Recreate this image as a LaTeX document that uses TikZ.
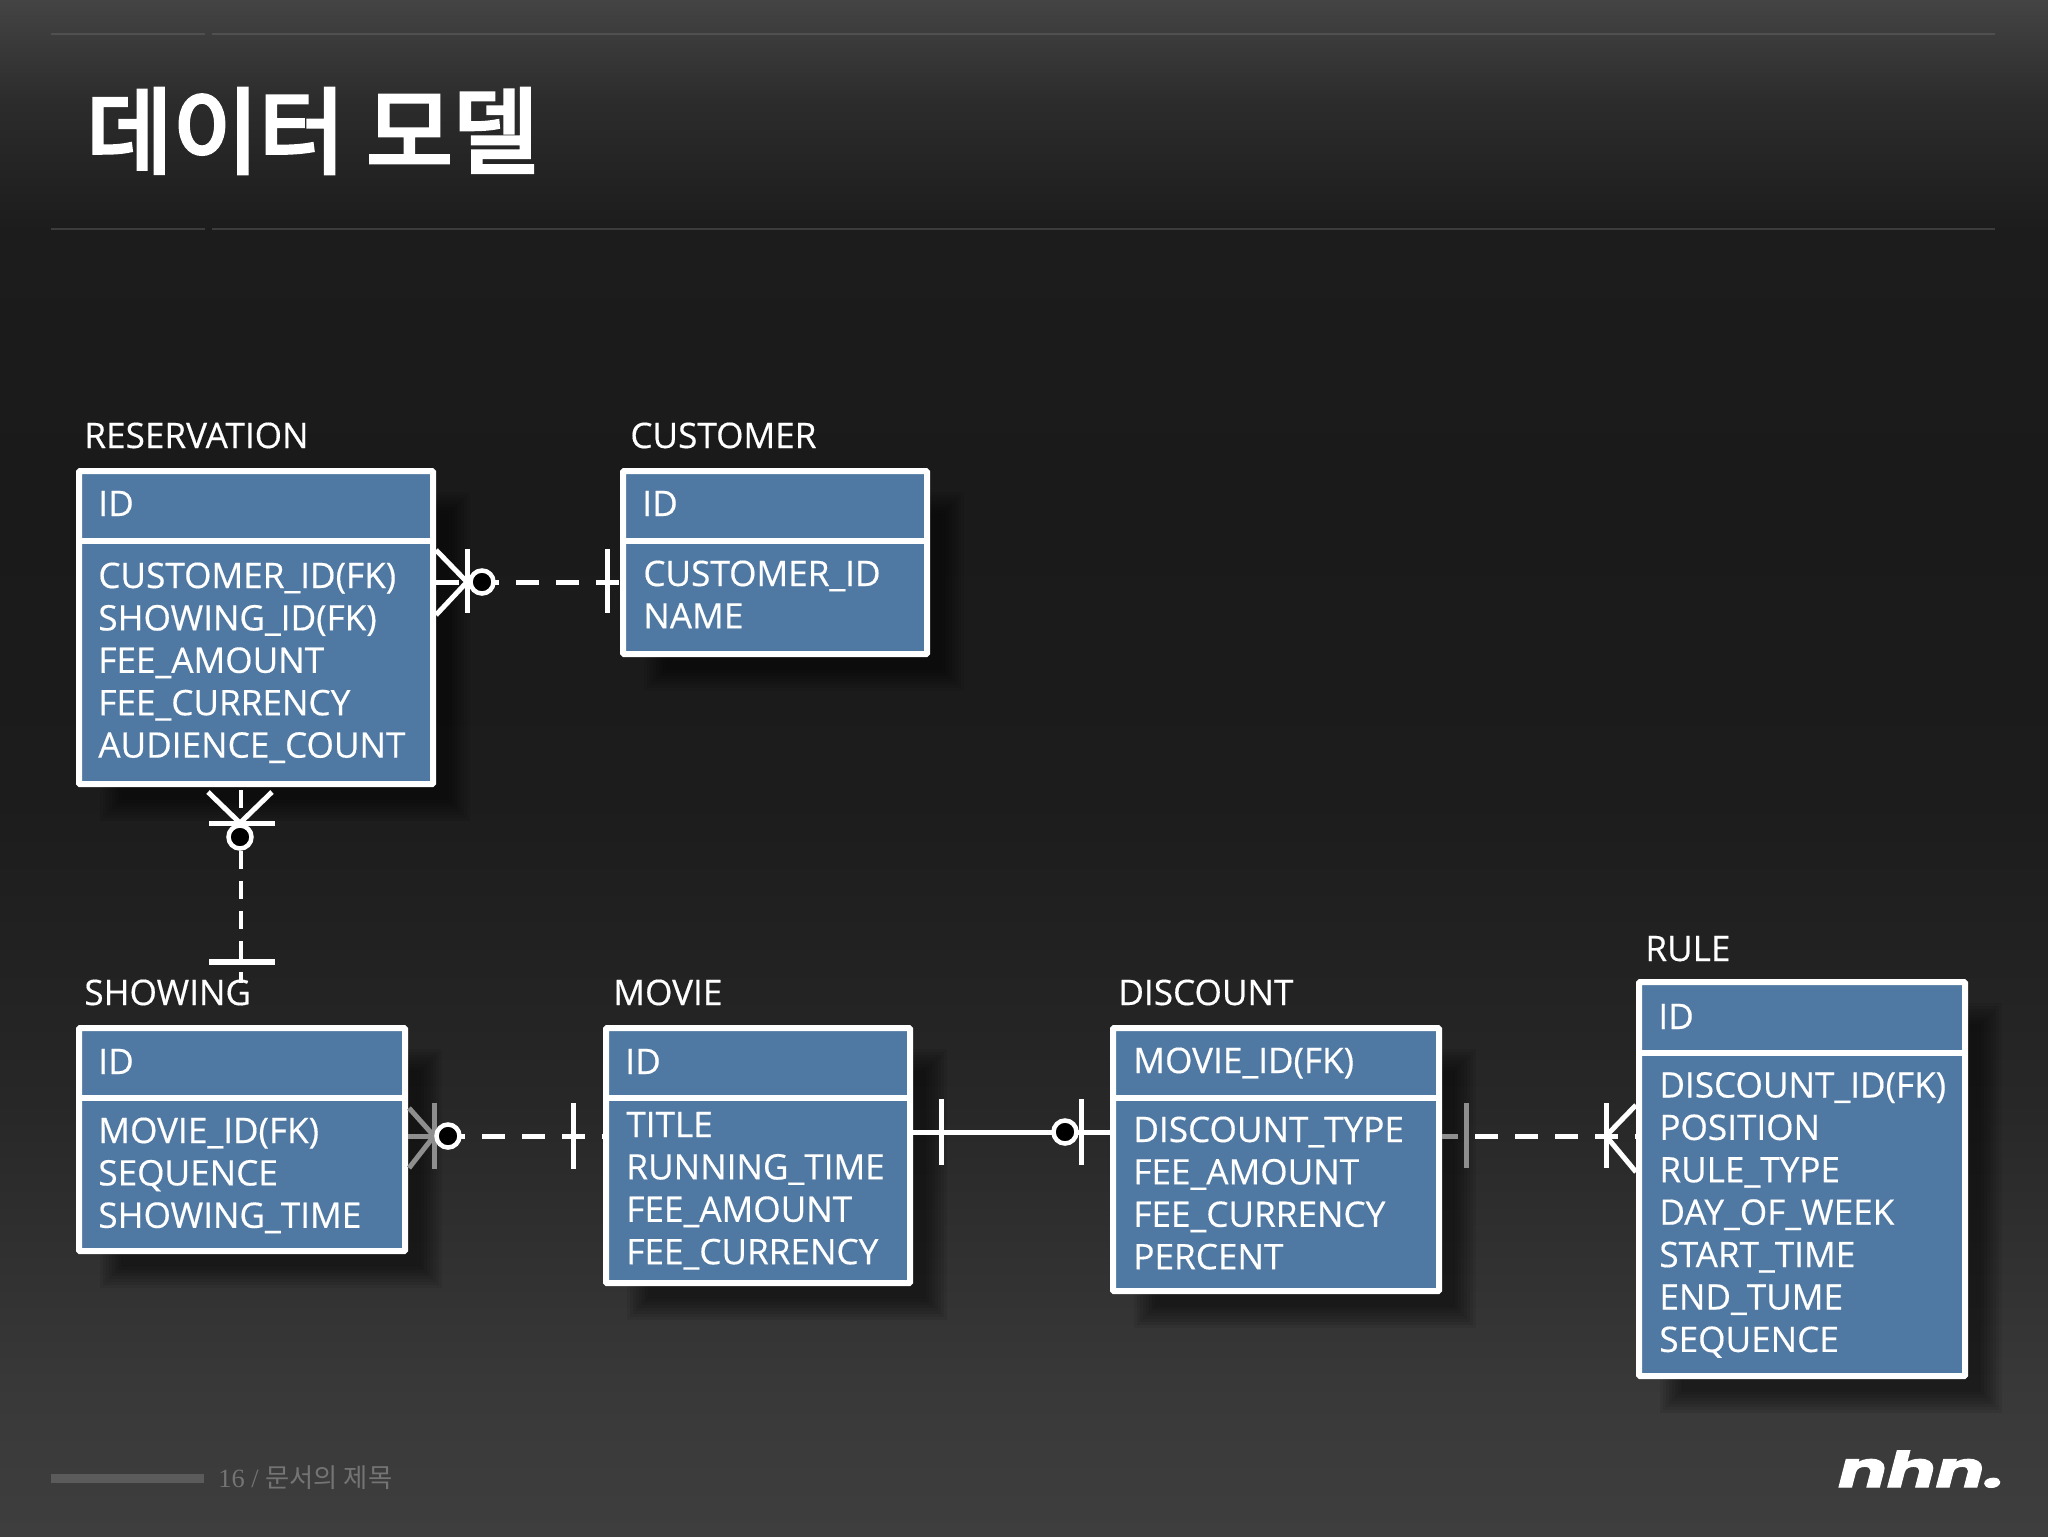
\documentclass[tikz,border=0pt]{standalone}
\usepackage{fontspec}
\setmainfont[FakeBold=0.4]{Open Sans}
\newfontfamily\kr{Noto Sans CJK KR}
\newfontfamily\krtitle[FakeBold=4]{Noto Sans CJK KR}
\newfontfamily\ser{Liberation Serif}
\newfontfamily\logof[FakeStretch=1.47,FakeBold=2.5]{Poppins}
\definecolor{tblfill}{HTML}{4F78A2}
\definecolor{c0}{HTML}{3E3E3E}\definecolor{c1}{HTML}{393939}\definecolor{c2}{HTML}{272727}
\definecolor{c3}{HTML}{1C1C1C}\definecolor{c4}{HTML}{1A1A1A}\definecolor{c5}{HTML}{1C1C1C}
\definecolor{c6}{HTML}{2C2C2C}\definecolor{c7}{HTML}{444444}
\definecolor{ingrey}{HTML}{8E8E8E}
\definecolor{ruleA}{HTML}{505050}
\definecolor{ruleB}{HTML}{3C3C3C}
\pgfdeclareverticalshading{slidebg}{100bp}{color(0bp)=(c0); color(25bp)=(c0); color(29.45bp)=(c1); color(39.2bp)=(c2); color(48.95bp)=(c3); color(58.7bp)=(c4); color(67.5bp)=(c5); color(71.75bp)=(c6); color(75bp)=(c7); color(100bp)=(c7)}
\tikzset{
  x=0.02cm,y=-0.02cm,
  tbl/.style={draw=white,fill=tblfill,line width=0.12cm,inner sep=0pt,outer sep=0.06cm,rounded corners=0.02cm},
  divline/.style={draw=white,line width=0.12cm},
  lbl/.style={anchor=base west,inner sep=0pt,text=white,font=\fontsize{20pt}{20pt}\selectfont},
  erline/.style={draw=white,line width=0.1cm},
  ergrey/.style={draw=ingrey,line width=0.1cm},
  erthin/.style={draw=white,line width=0.09cm},
  erdash/.style={draw=white,line width=0.1cm,dash pattern=on 0.46cm off 0.34cm},
  ercirc/.style={circle,draw=white,fill=black,line width=0.09cm,minimum size=0.46cm,inner sep=0pt},
  rulerline/.style={line width=0.03cm}
}
\newcommand{\ershadow}[4]{%
  \foreach \e in {-16,-13,...,5}{\fill[black,opacity=0.07] (#1+29-\e,#2+29-\e) rectangle (#3+29+\e,#4+29+\e);}}
\newcommand{\ertable}[6]{% name x1 y1 x2 y2 div
  \node[tbl,minimum width={(#4-#2-6)*0.02cm},minimum height={(#5-#3-6)*0.02cm}] (#1) at ({(#2+#4)/2},{(#3+#5)/2}) {};
  \draw[divline] (#2+3,#6) -- (#4-3,#6);}
\newcommand{\errows}[5]{% prefix x y0 pitch list
  \foreach \i/\t in {#5}{\node[lbl] (#1\i) at (#2,{#3+(\i-1)*#4}) {\t};}}
\begin{document}
\begin{tikzpicture}
\useasboundingbox (0,0) rectangle (2048,1536);
\shade[shading=slidebg] (0,0) rectangle (2048,1536);
% header rules
\coordinate (t1a) at (51,34);\coordinate (t1b) at (205,34);\coordinate (t1c) at (212,34);\coordinate (t1d) at (1995,34);
\coordinate (t2a) at (51,229);\coordinate (t2b) at (205,229);\coordinate (t2c) at (212,229);\coordinate (t2d) at (1995,229);
\draw[rulerline,draw=ruleA] (t1a) -- (t1b) (t1c) -- (t1d);
\draw[rulerline,draw=ruleB] (t2a) -- (t2b) (t2c) -- (t2d);
\node[anchor=base west,inner sep=0pt,text=white,font=\krtitle\fontsize{53.4pt}{53.4pt}\selectfont] (title) at (86,166) {데이터 모델};
% shadows
\ershadow{76}{468}{436}{787}
\ershadow{620}{468}{930}{657}
\ershadow{76}{1025}{408}{1254}
\ershadow{603}{1025}{913}{1286}
\ershadow{1110}{1025}{1442}{1294}
\ershadow{1636}{979}{1968}{1379}
% tables
\ertable{res}{76}{468}{436}{787}{541}
\ertable{cust}{620}{468}{930}{657}{541}
\ertable{show}{76}{1025}{408}{1254}{1098}
\ertable{movie}{603}{1025}{913}{1286}{1098}
\ertable{disc}{1110}{1025}{1442}{1294}{1098}
\ertable{rule}{1636}{979}{1968}{1379}{1053}
% connectors
\coordinate (y1) at (0,582);
\coordinate (k1) at (467,582);\coordinate (b1) at (607,582);
\draw[erdash] (res.east |- y1) -- (cust.west |- y1);
\draw[erline] (k1) ++(-31,-32) -- (k1) -- ++(-31,33);
\draw[erline] (k1) ++(0,-33) -- ++(0,64);
\draw[erline] (b1) ++(0,-33) -- ++(0,64);
\node[ercirc] (o1) at (482,582) {};
%
\coordinate (x2) at (241,0);
\coordinate (k2) at (240,823);\coordinate (b2) at (241,962);\coordinate (e2) at (241,983);
\draw[erthin,dash pattern=on 0.36cm off 0.246cm,dash phase=0.546cm] (res.south -| x2) -- (e2);
\draw[erline] (k2) ++(-32,-31) -- (k2) -- ++(32,-31);
\draw[erline] (k2) ++(-31,0) -- ++(66,0);
\draw[erline,line width=0.115cm] (b2) ++(-32,0) -- ++(66,0);
\node[ercirc] (o2) at (240,837) {};
%
\coordinate (y3) at (0,1136);
\coordinate (k3) at (434,1136);\coordinate (b3) at (573,1136);
\draw[erdash,dash phase=0.12cm] (show.east |- y3) -- (movie.west |- y3);
\draw[ergrey] (show.east |- y3) -- (k3);
\draw[ergrey] (k3) ++(-25,-28) -- (k3) -- ++(-25,32);
\draw[ergrey] (k3) ++(0,-33) -- ++(0,66);
\draw[erline] (b3) ++(0,-33) -- ++(0,66);
\node[ercirc] (o3) at (448,1136) {};
%
\coordinate (y4) at (0,1132);
\coordinate (b4a) at (941,1132);\coordinate (b4b) at (1081,1132);
\draw[erline] (movie.east |- y4) -- (disc.west |- y4);
\draw[erline] (b4a) ++(0,-33) -- ++(0,66);
\draw[erline] (b4b) ++(0,-33) -- ++(0,66);
\node[ercirc] (o4) at (1065,1132) {};
%
\coordinate (y5) at (0,1136);
\coordinate (b5) at (1466,1136);\coordinate (k5) at (1606,1136);
\draw[erdash,dash phase=0.14cm] (disc.east |- y5) -- (rule.west |- y5);
\draw[ergrey] (disc.east |- y5) -- ++(16,0);
\draw[ergrey] (b5) ++(0,-33) -- ++(0,65);
\draw[erline] (k5) ++(0,-33) -- ++(0,65);
\draw[erline] (k5) ++(30,-31) -- (k5) -- ++(30,36);
% texts
\node[lbl] (lres) at (84,448) {RESERVATION};
\node[lbl] (lcust) at (630,448) {CUSTOMER};
\node[lbl] (lshow) at (84,1005) {SHOWING};
\node[lbl] (lmovie) at (613,1005) {MOVIE};
\node[lbl] (ldisc) at (1118,1005) {DISCOUNT};
\node[lbl] (lrule) at (1645,961) {RULE};
\node[lbl] (resid) at (98,516) {ID};
\node[lbl] (custid) at (642,516) {ID};
\node[lbl] (showid) at (98,1074) {ID};
\node[lbl] (movieid) at (625,1074) {ID};
\node[lbl] (discid) at (1133,1073) {MOVIE\_ID(FK)};
\node[lbl] (ruleid) at (1658,1029) {ID};
\errows{rr}{98}{588}{42.4}{1/CUSTOMER\_ID(FK),2/SHOWING\_ID(FK),3/FEE\_AMOUNT,4/FEE\_CURRENCY,5/AUDIENCE\_COUNT}
\errows{cr}{643}{586}{42.4}{1/CUSTOMER\_ID,2/NAME}
\errows{sr}{98}{1143}{42.4}{1/MOVIE\_ID(FK),2/SEQUENCE,3/SHOWING\_TIME}
\errows{mr}{626}{1137}{42.4}{1/TITLE,2/RUNNING\_TIME,3/FEE\_AMOUNT,4/FEE\_CURRENCY}
\errows{dr}{1133}{1142}{42.4}{1/DISCOUNT\_TYPE,2/FEE\_AMOUNT,3/FEE\_CURRENCY,4/PERCENT}
\errows{ur}{1659}{1097.5}{42.4}{1/DISCOUNT\_ID(FK),2/POSITION,3/RULE\_TYPE,4/DAY\_OF\_WEEK,5/START\_TIME,6/END\_TUME,7/SEQUENCE}
% footer
\fill[draw=none,fill=white!17!c1] (51,1474) rectangle (204,1483);
\node[anchor=base west,inner sep=0pt,text=white!30!c1,font=\fontsize{14pt}{14pt}\selectfont] (foot) at (218,1487) {{\ser\fontsize{15pt}{15pt}\selectfont 16 / }{\kr\fontsize{15pt}{15pt}\selectfont 문서의 제목}};
\node[anchor=base west,inner sep=0pt,text=white,font=\logof\bfseries\itshape\fontsize{28pt}{28pt}\selectfont] (logo) at (1838,1487) {nhn.};
\end{tikzpicture}
\end{document}
